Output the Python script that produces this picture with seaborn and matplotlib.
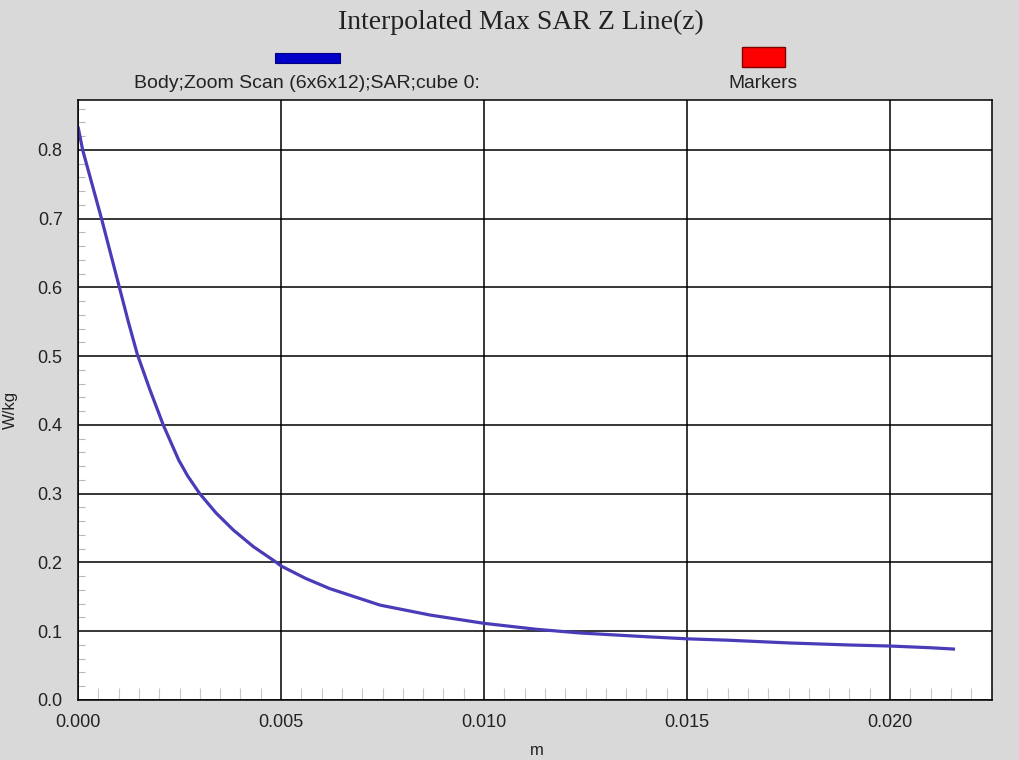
import matplotlib
matplotlib.use("Agg")
import matplotlib.pyplot as plt
import seaborn as sns
import pandas as pd
from matplotlib.patches import Rectangle
from matplotlib.ticker import MultipleLocator, FormatStrFormatter

# ---- data ----
z_m = [0.0, 0.000115, 0.00058, 0.00102, 0.00124, 0.00146, 0.00176, 0.00210,
       0.00248, 0.0027, 0.0030, 0.0034, 0.00383, 0.00432, 0.00489, 0.0050,
       0.0056, 0.0062, 0.00744, 0.00867, 0.0100, 0.0113, 0.01236, 0.0140,
       0.0150, 0.0160, 0.0175, 0.0190, 0.0200, 0.0210, 0.0216]
sar_wkg = [0.834, 0.800, 0.700, 0.600, 0.550, 0.503, 0.453, 0.400,
           0.349, 0.326, 0.300, 0.272, 0.247, 0.223, 0.200, 0.195,
           0.177, 0.162, 0.138, 0.1236, 0.1115, 0.1028, 0.0975, 0.092,
           0.089, 0.087, 0.083, 0.080, 0.0785, 0.076, 0.074]
series_label = "Body;Zoom Scan (6x6x12);SAR;cube 0:"
marker_label = "Markers"
title = "Interpolated Max SAR Z Line(z)"
x_label = "m"
y_label = "W/kg"

df = pd.DataFrame({"z": z_m, "sar": sar_wkg})

sns.set_theme(style="white")
plt.rcParams["font.family"] = ["Liberation Sans", "DejaVu Sans"]

fig = plt.figure(figsize=(10.19, 7.6), dpi=100, facecolor="#d9d9d9")
ax = fig.add_axes([78/1019, 60/760, 914/1019, 600/760])
ax.set_facecolor("white")

sns.lineplot(data=df, x="z", y="sar", ax=ax, color="#4a3cb8", linewidth=2.3,
             sort=False, estimator=None, solid_joinstyle="round",
             solid_capstyle="butt")

ax.set_xlim(0, 0.02251)
ax.set_ylim(0, 0.8727)
ax.xaxis.set_major_locator(MultipleLocator(0.005))
ax.xaxis.set_minor_locator(MultipleLocator(0.0005))
ax.yaxis.set_major_locator(MultipleLocator(0.1))
ax.yaxis.set_minor_locator(MultipleLocator(0.02))
ax.xaxis.set_major_formatter(FormatStrFormatter("%.3f"))
ax.yaxis.set_major_formatter(FormatStrFormatter("%.1f"))

ax.grid(True, which="major", color="black", linewidth=1.1)
for s in ax.spines.values():
    s.set_color("black")
    s.set_linewidth(1.1)

ax.tick_params(axis="x", which="major", direction="out", length=11, width=1.1,
               color="black", pad=-1, labelsize=13, labelcolor="#222222")
ax.tick_params(axis="y", which="major", direction="out", length=8, width=1.1,
               color="black", pad=3, labelsize=13, labelcolor="#222222")
ax.tick_params(axis="x", which="minor", direction="in", length=9, width=0.8,
               color="#c8c8c8", bottom=True)
ax.tick_params(axis="y", which="minor", direction="in", length=5, width=0.8,
               color="#b8b8b8", left=True)

ax.set_xlabel(x_label, fontsize=12, color="#222222")
ax.set_ylabel(y_label, fontsize=12, color="#222222")
ax.xaxis.set_label_coords(0.502, -0.071)
ax.yaxis.set_label_coords(-0.0656, 0.483)

# title and legend-like header
fig.text(0.511, 0.970, title, ha="center", va="center", fontsize=20,
         family=["Liberation Serif", "DejaVu Serif"], color="#222222")
fig.add_artist(Rectangle((275/1019, (760-63)/760), 65/1019, 10/760,
                         transform=fig.transFigure, facecolor="#0000c8",
                         edgecolor="#000080", linewidth=0.8))
fig.text(307/1019, 1-83/760, series_label, ha="center", va="center",
         fontsize=14, color="#222222")
fig.add_artist(Rectangle((742/1019, (760-67)/760), 43/1019, 20/760,
                         transform=fig.transFigure, facecolor="#ff0000",
                         edgecolor="#800000", linewidth=1.0))
fig.text(763/1019, 1-83/760, marker_label, ha="center", va="center",
         fontsize=13.8, color="#222222")

fig.savefig("out.png", dpi=100, facecolor=fig.get_facecolor())
